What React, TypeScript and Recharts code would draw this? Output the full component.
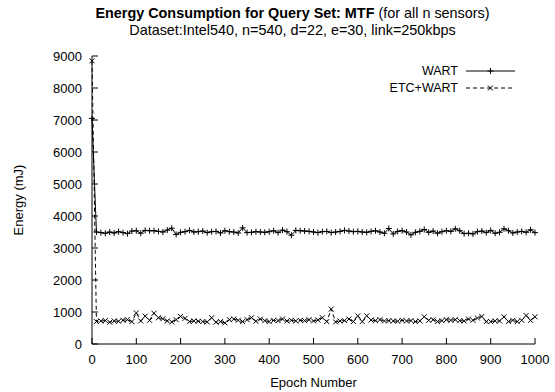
import React from "react";
import {
  LineChart,
  Line,
  XAxis,
  YAxis,
  Legend,
} from "recharts";

// epoch numbers (x axis), one sample every 10 epochs
const epochs = [
  0, 10, 20, 30, 40, 50, 60, 70, 80, 90,
  100, 110, 120, 130, 140, 150, 160, 170, 180, 190,
  200, 210, 220, 230, 240, 250, 260, 270, 280, 290,
  300, 310, 320, 330, 340, 350, 360, 370, 380, 390,
  400, 410, 420, 430, 440, 450, 460, 470, 480, 490,
  500, 510, 520, 530, 540, 550, 560, 570, 580, 590,
  600, 610, 620, 630, 640, 650, 660, 670, 680, 690,
  700, 710, 720, 730, 740, 750, 760, 770, 780, 790,
  800, 810, 820, 830, 840, 850, 860, 870, 880, 890,
  900, 910, 920, 930, 940, 950, 960, 970, 980, 990,
  1000,
];

// energy (mJ) for WART
const wart = [
  7050, 3500, 3480, 3460, 3500, 3470, 3510, 3480, 3450, 3530,
  3540, 3460, 3550, 3540, 3540, 3520, 3500, 3560, 3620, 3420,
  3490, 3510, 3550, 3500, 3510, 3530, 3480, 3510, 3520, 3470,
  3540, 3510, 3500, 3470, 3630, 3480, 3490, 3510, 3500, 3490,
  3510, 3540, 3480, 3560, 3510, 3400, 3550, 3540, 3530, 3520,
  3500, 3480, 3510, 3520, 3480, 3500, 3520, 3550, 3530, 3510,
  3520, 3500, 3490, 3520, 3540, 3500, 3460, 3610, 3440, 3520,
  3540, 3500, 3410, 3490, 3520, 3580, 3490, 3530, 3460, 3510,
  3540, 3520, 3600, 3540, 3450, 3460, 3440, 3510, 3530, 3480,
  3550, 3460, 3490, 3600, 3540, 3470, 3500, 3520, 3490, 3570,
  3480,
];

// energy (mJ) for ETC+WART
const etcWart = [
  8850, 700, 720, 730, 680, 720, 710, 740, 760, 700,
  970, 720, 870, 740, 960, 820, 790, 720, 690, 760,
  860, 800, 700, 720, 710, 700, 690, 820, 680, 700,
  660, 760, 780, 740, 700, 760, 820, 710, 780, 730,
  700, 740, 730, 780, 720, 740, 720, 740, 730, 760,
  720, 750, 820, 700, 1090, 690, 720, 730, 780, 700,
  880, 700, 880, 750, 730, 760, 720, 730, 720, 710,
  740, 720, 730, 700, 720, 850, 740, 760, 700, 730,
  760, 740, 760, 730, 720, 780, 740, 810, 860, 700,
  700, 720, 720, 850, 700, 740, 700, 740, 890, 740,
  850,
];

const xTicks = [0, 100, 200, 300, 400, 500, 600, 700, 800, 900, 1000];
const yTicks = [0, 1000, 2000, 3000, 4000, 5000, 6000, 7000, 8000, 9000];

const data = epochs.map((epoch, i) => ({
  epoch,
  wart: wart[i],
  etcWart: etcWart[i],
}));

const FONT = "'Liberation Sans', Arial, Helvetica, sans-serif";
const INK = "#000";

const PlusDot = (props: any) => {
  const { cx, cy } = props;
  if (cx == null || cy == null) return null;
  const s = 3;
  return (
    <g>
      <line x1={cx - s} y1={cy} x2={cx + s} y2={cy} stroke={INK} strokeWidth={1} />
      <line x1={cx} y1={cy - s} x2={cx} y2={cy + s} stroke={INK} strokeWidth={1} />
    </g>
  );
};

const CrossDot = (props: any) => {
  const { cx, cy } = props;
  if (cx == null || cy == null) return null;
  const s = 2.5;
  return (
    <g>
      <line x1={cx - s} y1={cy - s} x2={cx + s} y2={cy + s} stroke={INK} strokeWidth={1} />
      <line x1={cx - s} y1={cy + s} x2={cx + s} y2={cy - s} stroke={INK} strokeWidth={1} />
    </g>
  );
};

const legendRows = [
  { name: "WART", dash: undefined, Marker: PlusDot },
  { name: "ETC+WART", dash: "4 3", Marker: CrossDot },
];

const GnuplotLegend = () => (
  <div style={{ fontFamily: FONT, fontSize: 12.5, color: INK }}>
    {legendRows.map((row) => (
      <div
        key={row.name}
        style={{ display: "flex", alignItems: "center", justifyContent: "flex-end", height: 17 }}
      >
        <span style={{ marginRight: 8 }}>{row.name}</span>
        <svg width={49} height={10}>
          <line x1={0} y1={5} x2={49} y2={5} stroke={INK} strokeWidth={1} strokeDasharray={row.dash} />
          <row.Marker cx={24.5} cy={5} />
        </svg>
      </div>
    ))}
  </div>
);

const tickStyle = { fill: INK, fontSize: 13, fontFamily: FONT };

export default function App() {
  return (
    <div
      style={{
        position: "absolute",
        top: 0,
        left: 0,
        width: 555,
        height: 392,
        background: "#fff",
        fontFamily: FONT,
        color: INK,
      }}
    >
      <div
        style={{
          position: "absolute",
          top: 5,
          left: 41,
          width: 503,
          textAlign: "center",
          fontSize: 14.4,
          lineHeight: "17px",
        }}
      >
        <div>
          <b>Energy Consumption for Query Set: MTF</b> (for all n sensors)
        </div>
        <div>Dataset:Intel540, n=540, d=22, e=30, link=250kbps</div>
      </div>
      <LineChart
        width={555}
        height={392}
        data={data}
        margin={{ top: 56, right: 20, bottom: 0, left: 0 }}
        style={{ position: "absolute", top: 0, left: 0 }}
      >
        <XAxis
          dataKey="epoch"
          type="number"
          domain={[0, 1000]}
          ticks={xTicks}
          height={48}
          stroke={INK}
          tickSize={-6}
          tickMargin={17}
          tick={tickStyle}
          interval={0}
          label={{ value: "Epoch Number", position: "center", dy: 14, fill: INK, fontSize: 13, fontFamily: FONT }}
        />
        <XAxis
          xAxisId="top"
          orientation="top"
          dataKey="epoch"
          type="number"
          domain={[0, 1000]}
          ticks={xTicks}
          height={0}
          stroke={INK}
          tickSize={-6}
          tickFormatter={() => ""}
          interval={0}
        />
        <YAxis
          type="number"
          domain={[0, 9000]}
          ticks={yTicks}
          width={92}
          stroke={INK}
          tickSize={-6}
          tickMargin={16}
          tick={tickStyle}
          interval={0}
          label={{ value: "Energy (mJ)", angle: -90, position: "center", dx: -28, fill: INK, fontSize: 13, fontFamily: FONT }}
        />
        <YAxis
          yAxisId="right"
          orientation="right"
          type="number"
          domain={[0, 9000]}
          ticks={yTicks}
          width={0}
          stroke={INK}
          tickSize={-6}
          tickFormatter={() => ""}
          interval={0}
        />
        <Legend
          layout="horizontal"
          verticalAlign="middle"
          align="center"
          content={() => <GnuplotLegend />}
          wrapperStyle={{ top: 62, left: "auto", right: 40, width: 220 }}
        />
        <Line
          dataKey="wart"
          name="WART"
          stroke={INK}
          strokeWidth={1}
          dot={(p: any) => <PlusDot key={`w-${p.index}`} {...p} />}
          isAnimationActive={false}
        />
        <Line
          dataKey="etcWart"
          name="ETC+WART"
          stroke={INK}
          strokeWidth={1}
          strokeDasharray="4 3"
          dot={(p: any) => <CrossDot key={`e-${p.index}`} {...p} />}
          isAnimationActive={false}
        />
      </LineChart>
    </div>
  );
}
